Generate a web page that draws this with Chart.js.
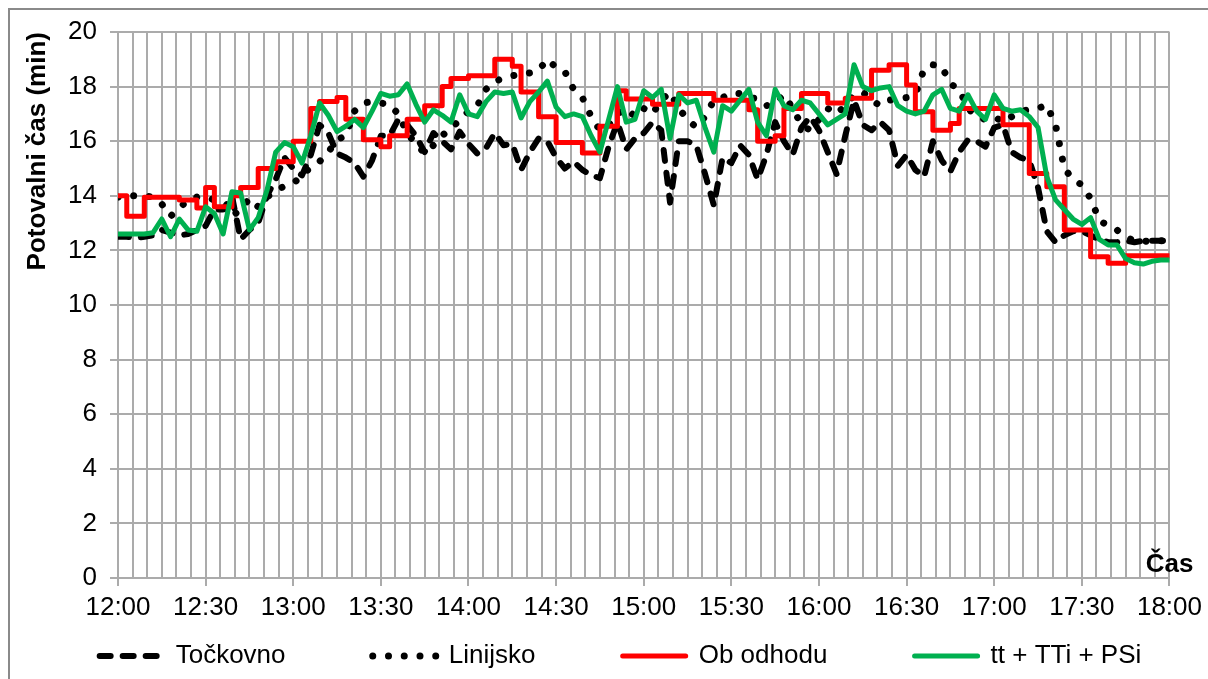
<!DOCTYPE html>
<html>
<head>
<meta charset="utf-8">
<script src="https://cdn.jsdelivr.net/npm/chart.js@4"></script>
<style>
  html, body { margin: 0; padding: 0; background: #fff; }
</style>
</head>
<body>
<canvas id="chart" width="1208" height="679"></canvas>
<script>
/* --------------- Data: one value every 3 minutes from 12:00 to 18:00 --------------- */
const stepMin = 3;
const xTickLabels = ['12:00', '12:30', '13:00', '13:30', '14:00', '14:30', '15:00',
  '15:30', '16:00', '16:30', '17:00', '17:30', '18:00'];
const seriesNames = ['Točkovno', 'Linijsko', 'Ob odhodu', 'tt + TTi + PSi'];
const yTitle = 'Potovalni čas (min)';
const xTitle = 'Čas';

const tockovno = [
  12.5, 12.5, 12.45, 12.5, 12.55, 12.75, 12.65, 12.55, 12.6, 12.75,
  12.9, 13.5, 13.5, 14.0, 12.4, 12.75, 13.0, 14.0, 14.6, 15.4,
  15.0, 14.75, 15.5, 16.6, 16.3, 15.55, 15.4, 15.2, 14.7, 15.3,
  16.2, 16.2, 16.8, 16.6, 16.2, 15.6, 16.3, 16.0, 15.7, 16.35,
  15.9, 15.55, 15.75, 16.3, 15.85, 15.9, 14.95, 15.6, 16.1, 16.0,
  15.4, 15.0, 15.25, 14.95, 14.75, 14.65, 15.8, 16.7, 15.7, 16.1,
  16.3, 16.7, 16.4, 13.75, 16.0, 16.0, 15.85, 14.8, 13.65, 15.4,
  15.2, 15.85, 15.5, 14.6, 15.5, 16.7, 16.0, 15.5, 16.5, 16.9,
  16.4, 15.6, 14.8, 16.2, 17.5, 16.6, 16.4, 16.7, 16.4, 15.1,
  15.5, 14.95, 14.7, 16.0, 15.3, 14.9, 15.6, 16.05, 16.0, 15.8,
  16.5, 16.6, 15.6, 15.4, 15.3, 14.3, 12.7, 12.3, 12.55, 12.7,
  12.7, 12.55, 12.4, 12.3, 12.3, 12.35, 12.3, 12.35, 12.35, 12.35,
  12.35
];
const linijsko = [
  13.95, 14.0, 14.0, 14.0, 13.95, 13.7, 13.25, 13.55, 13.85, 13.95,
  13.95, 13.85, 13.6, 13.25, 13.5, 13.9, 13.6, 13.95, 14.2, 14.35,
  14.45, 14.75, 15.05, 15.25, 15.6, 16.05, 16.2, 17.1, 17.4, 17.45,
  17.4, 17.33, 17.0, 16.3, 15.9, 15.56, 15.85, 16.2, 16.5, 16.75,
  17.1, 17.3, 17.9, 18.2, 18.3, 18.4, 18.45, 18.5, 18.6, 19.0,
  18.7, 18.55, 17.9, 17.6, 16.9, 16.4, 16.6, 17.0, 17.2, 16.9,
  17.2, 17.0, 17.5, 17.8, 17.2, 16.8, 16.5, 16.9, 17.5, 17.6,
  17.75, 17.75, 17.6, 17.55, 17.3, 17.4, 17.7, 17.2, 16.6, 16.4,
  16.8, 17.2, 17.0, 17.3, 17.7, 17.8, 17.5, 17.3, 17.5, 17.55,
  17.6, 17.7, 18.65, 18.8, 18.75, 18.1, 17.9, 17.2, 16.9, 16.8,
  16.9, 16.7, 16.9, 17.1, 17.15, 17.2, 17.33, 16.6, 15.0, 14.6,
  14.4, 13.9, 13.1, 12.9, 12.75, 12.5, 12.35, 12.35, 12.3, 12.35,
  12.35
];
const obOdhodu = [
  14.0, 13.25, 13.25, 13.95, 13.95, 13.95, 13.95, 13.85, 13.85, 13.55,
  14.3, 13.6, 13.6, 14.0, 14.3, 14.3, 15.0, 15.0, 15.25, 15.25,
  16.0, 16.0, 17.2, 17.45, 17.45, 17.6, 16.8, 16.8, 16.05, 16.05,
  15.8, 16.2, 16.2, 16.8, 16.8, 17.3, 17.3, 18.0, 18.3, 18.3,
  18.4, 18.4, 18.4, 19.0, 19.0, 18.75, 17.8, 17.8, 16.9, 16.9,
  15.95, 15.95, 15.95, 15.57, 15.57, 16.55, 16.55, 17.85, 17.55, 17.55,
  17.55, 17.35, 17.35, 17.35, 17.75, 17.75, 17.75, 17.75, 17.5, 17.5,
  17.5, 17.5, 17.15, 16.0, 16.0, 16.2, 17.2, 17.2, 17.75, 17.75,
  17.75, 17.4, 17.4, 17.57, 17.57, 17.57, 18.6, 18.6, 18.8, 18.8,
  18.06, 17.08, 17.08, 16.4, 16.4, 16.65, 17.2, 17.2, 17.2, 17.2,
  17.2, 16.6, 16.6, 16.6, 14.82, 14.82, 14.33, 14.33, 12.75, 12.75,
  12.75, 11.77, 11.77, 11.53, 11.53, 11.8, 11.8, 11.8, 11.8, 11.8,
  11.8
];
const ttTTiPSi = [
  12.6, 12.6, 12.6, 12.6, 12.65, 13.15, 12.5, 13.15, 12.75, 12.7,
  13.6, 13.35, 12.6, 14.15, 14.1, 12.75, 13.2, 14.2, 15.6, 15.95,
  15.8, 15.2, 16.2, 17.4, 16.95, 16.35, 16.55, 16.8, 16.5, 17.1,
  17.75, 17.65, 17.7, 18.1, 17.35, 16.7, 17.15, 16.95, 16.7, 17.7,
  17.0, 16.9, 17.45, 17.8, 17.75, 17.8, 16.85, 17.45, 17.8, 18.2,
  17.25, 16.9, 17.0, 16.9, 16.2, 15.6, 16.8, 18.0, 16.7, 16.8,
  17.85, 17.6, 17.9, 16.1, 17.7, 17.4, 17.5, 16.5, 15.6, 17.3,
  17.1, 17.5, 17.9, 16.7, 16.2, 17.9, 17.3, 17.15, 17.5, 17.4,
  17.0, 16.6, 16.8, 17.0, 18.8, 18.0, 17.85, 17.95, 18.0, 17.3,
  17.1, 17.0, 17.1, 17.7, 17.9, 17.2, 17.1, 17.7, 17.1, 16.8,
  17.7, 17.2, 17.1, 17.15, 16.9, 16.5, 14.7, 13.85, 13.5, 13.15,
  12.95, 13.2, 12.4, 12.2, 12.2, 11.7, 11.55, 11.5, 11.6, 11.65,
  11.65
];

const FONT = "'Liberation Sans', Arial, sans-serif";
const gridColor = '#ababab';
const legendGap = '          '; // spacing after each legend label
const legendShift = 30;

// minutes after 12:00 for each sample
const toPoints = (vals) => vals.map((v, i) => ({ x: i * stepMin, y: v }));

/* --------------- Frame, axis caption and legend placement --------------- */
const sheetDecor = {
  id: 'sheetDecor',
  afterLayout(chart) {
    const lg = chart.legend;
    if (lg) {
      lg.left += legendShift;
      lg.right += legendShift;
    }
  },
  beforeDraw(chart) {
    const { ctx } = chart;
    ctx.save();
    ctx.fillStyle = '#fff';
    ctx.fillRect(0, 0, chart.width, chart.height);
    ctx.strokeStyle = '#8a8a8a';
    ctx.lineWidth = 2;
    ctx.beginPath();
    ctx.moveTo(9, chart.height);
    ctx.lineTo(9, 9);
    ctx.lineTo(chart.width, 9);
    ctx.stroke();
    ctx.restore();
  },
  afterDraw(chart) {
    const { ctx, chartArea } = chart;
    ctx.save();
    ctx.font = 'bold 26px ' + FONT;
    ctx.fillStyle = '#000';
    ctx.textAlign = 'right';
    ctx.textBaseline = 'alphabetic';
    ctx.fillText(xTitle, chartArea.right + 24, chartArea.bottom - 6);
    ctx.restore();
  }
};

new Chart(document.getElementById('chart'), {
  type: 'line',
  plugins: [sheetDecor],
  data: {
    datasets: [
      {
        label: seriesNames[0],
        data: toPoints(tockovno),
        borderColor: '#000',
        backgroundColor: '#000',
        borderWidth: 6,
        borderDash: [11, 12],
        borderCapStyle: 'round',
        borderJoinStyle: 'round',
        order: 3
      },
      {
        label: seriesNames[1],
        data: toPoints(linijsko),
        borderColor: '#000',
        backgroundColor: '#000',
        borderWidth: 7,
        borderDash: [0.01, 15.74],
        borderCapStyle: 'round',
        borderJoinStyle: 'round',
        order: 2
      },
      {
        label: seriesNames[2],
        data: toPoints(obOdhodu),
        borderColor: '#ff0000',
        backgroundColor: '#ff0000',
        borderWidth: 5,
        stepped: true,
        borderCapStyle: 'round',
        borderJoinStyle: 'round',
        order: 1
      },
      {
        label: seriesNames[3],
        data: toPoints(ttTTiPSi),
        borderColor: '#00b050',
        backgroundColor: '#00b050',
        borderWidth: 5,
        borderCapStyle: 'round',
        borderJoinStyle: 'round',
        order: 0
      }
    ]
  },
  options: {
    responsive: false,
    devicePixelRatio: 1,
    animation: false,
    layout: { padding: { left: 10, top: 32, right: 37, bottom: 0 } },
    elements: { point: { radius: 0 }, line: { tension: 0 } },
    scales: {
      x: {
        type: 'linear',
        min: 0,
        max: 360,
        afterFit: (scale) => { scale.height = 50; },
        border: { color: gridColor, width: 2 },
        grid: {
          color: gridColor,
          lineWidth: 2,
          tickLength: 8,
          tickWidth: 2,
          tickColor: (c) => (c.tick && c.tick.value % 30 === 0 ? gridColor : 'rgba(0,0,0,0)')
        },
        ticks: {
          stepSize: 5,
          autoSkip: false,
          maxRotation: 0,
          minRotation: 0,
          padding: 6,
          color: '#000',
          font: { family: FONT, size: 26 },
          callback: (v) => (v % 30 === 0 ? xTickLabels[v / 30] : '')
        }
      },
      y: {
        min: 0,
        max: 20,
        afterFit: (scale) => { scale.width = 108; },
        border: { color: gridColor, width: 2 },
        grid: { color: gridColor, lineWidth: 2, tickLength: 8 },
        ticks: {
          stepSize: 2,
          padding: 13,
          color: '#000',
          font: { family: FONT, size: 26 }
        },
        title: {
          display: true,
          text: yTitle,
          align: 'end',
          color: '#000',
          padding: { top: 12, bottom: 0 },
          font: { family: FONT, size: 26, weight: 'bold' }
        }
      }
    },
    plugins: {
      tooltip: { enabled: false },
      legend: {
        position: 'bottom',
        labels: {
          boxWidth: 63,
          boxHeight: 0,
          padding: 15,
          color: '#000',
          font: { family: FONT, size: 26 },
          generateLabels: (chart) => {
            const items = Chart.defaults.plugins.legend.labels.generateLabels(chart)
              .sort((a, b) => a.datasetIndex - b.datasetIndex);
            return items.map((it, i) => (i < items.length - 1 ? { ...it, text: it.text + legendGap } : it));
          }
        }
      }
    }
  }
});
</script>
</body>
</html>
